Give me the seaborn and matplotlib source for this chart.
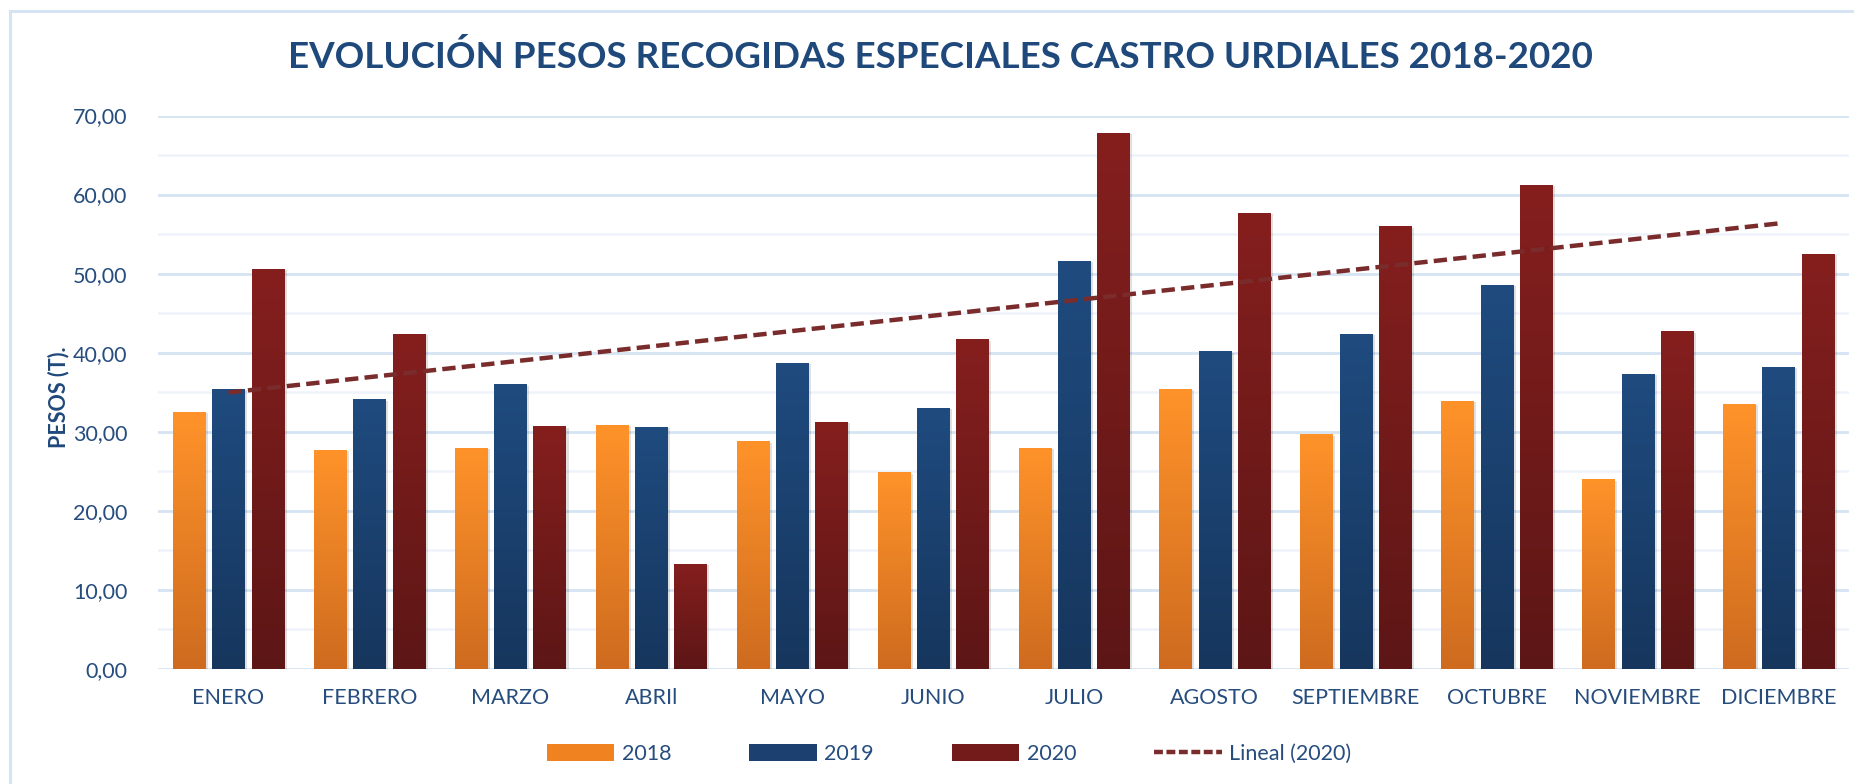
import numpy as np
import pandas as pd
import matplotlib
matplotlib.use("Agg")
import matplotlib.pyplot as plt
import matplotlib.patheffects as pe
from matplotlib.colors import LinearSegmentedColormap
from matplotlib.patches import Rectangle, Patch
from matplotlib.lines import Line2D
from matplotlib.ticker import MultipleLocator, FuncFormatter
import seaborn as sns

# ---- data ----
months = ["ENERO", "FEBRERO", "MARZO", "ABRIl", "MAYO", "JUNIO", "JULIO",
          "AGOSTO", "SEPTIEMBRE", "OCTUBRE", "NOVIEMBRE", "DICIEMBRE"]
years = ["2018", "2019", "2020"]
v2018 = [32.5, 27.7, 28.0, 30.9, 28.8, 24.9, 28.0, 35.4, 29.7, 33.9, 24.0, 33.5]
v2019 = [35.4, 34.1, 36.0, 30.6, 38.7, 33.0, 51.6, 40.2, 42.4, 48.6, 37.3, 38.2]
v2020 = [50.6, 42.4, 30.7, 13.3, 31.3, 41.7, 67.8, 57.7, 56.0, 61.2, 42.7, 52.5]
title = "EVOLUCIÓN PESOS RECOGIDAS ESPECIALES CASTRO URDIALES 2018-2020"
ylabel = "PESOS (T)."
trend_label = "Lineal (2020)"

# gradient colours (top, bottom)
grad = {"2018": ("#FF932A", "#CE6B1F"),
        "2019": ("#1F4B7F", "#16365D"),
        "2020": ("#851F1E", "#5D1616")}
mid = {"2018": "#F0831F", "2019": "#1C4170", "2020": "#721B1A"}
text_col = "#264D7E"
title_col = "#1F487B"
trend_col = "#7A2B2B"

df = pd.DataFrame({
    "mes": months * 3,
    "año": sum([[y] * 12 for y in years], []),
    "peso": v2018 + v2019 + v2020,
})

sns.set_theme(style="white")
plt.rcParams["font.family"] = ["Lato", "DejaVu Sans"]

fig = plt.figure(figsize=(18.54, 7.84), dpi=100)
ax = fig.add_axes([158 / 1854, 1 - 669 / 784, (1849 - 158) / 1854, (669 - 115.5) / 784])

sns.barplot(data=df, x="mes", y="peso", hue="año", order=months, hue_order=years,
            palette=mid, width=0.837, gap=0.18, ax=ax, legend=False,
            saturation=1, errorbar=None)

ax.set_xlim(-0.5, 11.5)
ax.set_ylim(0, 70)

# gradient fill on each bar
for i, cont in enumerate(ax.containers):
    top, bot = grad[years[i]]
    cmap = LinearSegmentedColormap.from_list("g", [bot, top])
    for p in cont.patches:
        x0, y0 = p.get_x(), p.get_y()
        w, h = p.get_width(), p.get_height()
        p.set_facecolor("none")
        p.set_edgecolor("none")
        p.set_path_effects([pe.SimplePatchShadow(offset=(2, -1), shadow_rgbFace="#000000", alpha=0.12)])
        im = ax.imshow(np.linspace(0, 1, 256).reshape(-1, 1), cmap=cmap, origin="lower",
                       extent=(x0, x0 + w, y0, y0 + h), aspect="auto", zorder=2.5)
        im.set_clip_path(p)

ax.set_xlim(-0.5, 11.5)
ax.set_ylim(0, 70)

# trend line (linear fit of 2020)
pos = np.arange(12)
sns.regplot(x=pos, y=np.array(v2020), scatter=False, ci=None, truncate=True, ax=ax,
            line_kws=dict(color=trend_col, lw=3.2, linestyle=(0, (3, 1.4)), zorder=4))
ax.set_xlim(-0.5, 11.5)
ax.set_ylim(0, 70)

# grid
ax.yaxis.set_major_locator(MultipleLocator(10))
ax.yaxis.set_minor_locator(MultipleLocator(5))
ax.grid(axis="y", which="major", color="#D5E3F3", lw=2.0, zorder=0)
ax.grid(axis="y", which="minor", color="#EEF3FA", lw=1.8, zorder=0)
ax.grid(axis="x", visible=False)
ax.set_axisbelow(True)
for s in ax.spines.values():
    s.set_visible(False)
ax.yaxis.set_major_formatter(FuncFormatter(lambda v, _: f"{v:.2f}".replace(".", ",")))
ax.tick_params(axis="both", which="both", length=0, labelsize=15.5, colors=text_col)
ax.tick_params(axis="y", pad=22)
ax.tick_params(axis="x", pad=14)
ax.set_xticks(range(12))
ax.set_xticklabels(months)
ax.set_xlabel("")
ax.set_ylabel("")

fig.text(59 / 1854, 1 - 397 / 784, ylabel, rotation=90, ha="center", va="center",
         fontsize=15.5, fontweight="bold", color=title_col)

fig.text(940 / 1854, 1 - 57 / 784, title, ha="center", va="center",
         fontsize=26.5, fontweight="bold", color=title_col)

# border
fig.patches.append(Rectangle((10 / 1854, -0.1), 1.2, 1 - 11 / 784 + 0.1, transform=fig.transFigure,
                             fill=False, edgecolor="#D6E3F3", lw=2.2))

handles = [Patch(facecolor=mid[y], edgecolor="none") for y in years]
handles.append(Line2D([0], [0], color=trend_col, lw=3.2, linestyle=(0, (2, 0.8))))
leg = fig.legend(handles, years + [trend_label], loc="center", ncol=4,
                 bbox_to_anchor=(949 / 1854, 1 - 754 / 784), frameon=False,
                 fontsize=15.5, handlelength=3.15, handleheight=0.8, handletextpad=0.35,
                 columnspacing=3.6, labelcolor=text_col)

fig.savefig("out.png", dpi=100)
